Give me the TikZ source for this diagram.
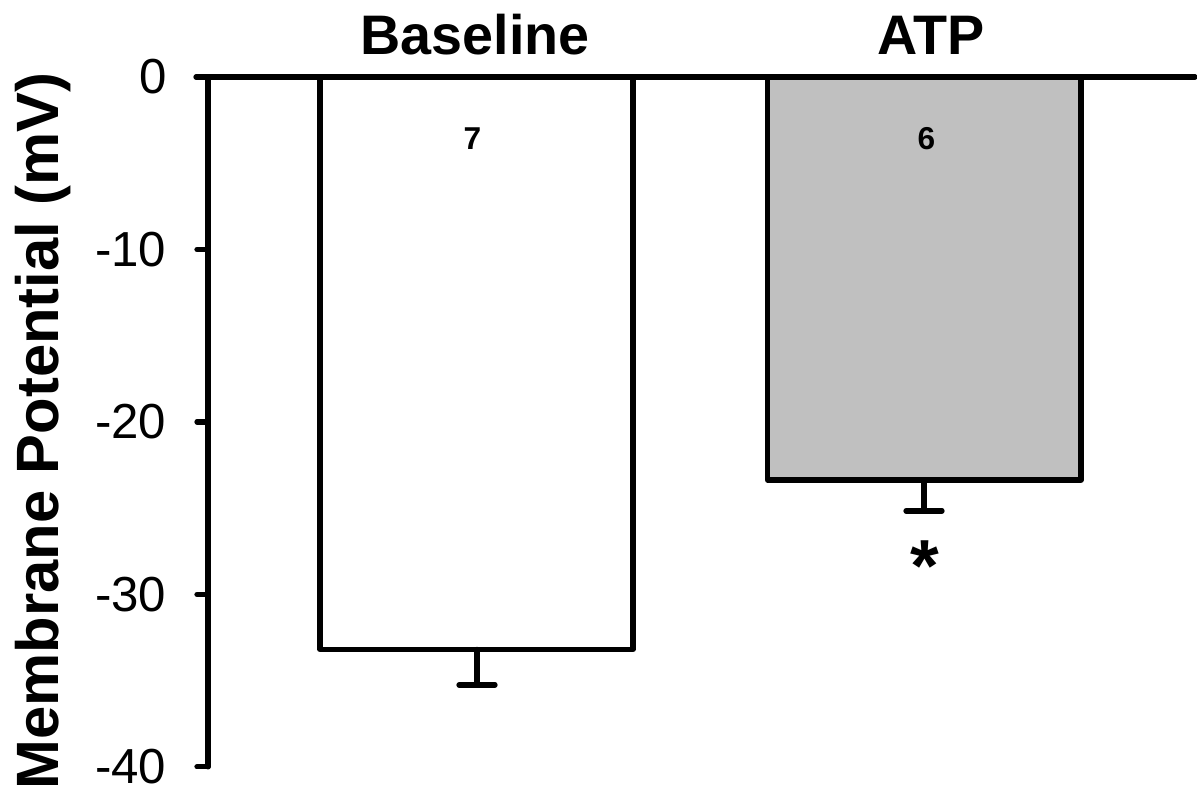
\documentclass[tikz,border=0pt]{standalone}
\usepackage{fontspec}
\setmainfont{Liberation Sans}
\usepackage{xcolor}
\usepackage{tikz}
\usetikzlibrary{positioning}

\definecolor{barGray}{HTML}{C0C0C0}

\begin{document}
\begin{tikzpicture}[x=0.02cm, y=0.345cm, line width=3pt, line cap=round, line join=round,
    bar/.style={draw=black, line width=3pt},
    ticklabel/.style={anchor=east, inner sep=0pt, font=\fontsize{28}{34}\selectfont},
    grouptitle/.style={anchor=base, inner sep=0pt, font=\fontsize{31.7}{38}\selectfont\bfseries},
    count/.style={anchor=north, inner sep=0pt, font=\fontsize{18}{22}\selectfont\bfseries}]
    \useasboundingbox (0,4.4638) rectangle (1197,-41.4493);

    % bars
    \draw[bar, fill=white] (320,0) rectangle (633,-33.19);
    \draw[bar, fill=barGray] (767.5,0) rectangle (1081,-23.36);

    % error bars
    \draw (477,-33.19) -- (477,-35.25);
    \draw (459,-35.25) -- (495,-35.25);
    \draw (924,-23.36) -- (924,-25.16);
    \draw (906,-25.16) -- (942,-25.16);

    % axes
    \draw (196,0) -- (1195,0);
    \draw (208,0) -- (208,-40);
    \foreach \v in {0,-10,-20,-30,-40} {
        \draw (197,\v) -- (208,\v);
        \node[ticklabel] (lbl\v) at (169,\v) {\v};
    }

    \node[grouptitle] (baseTitle) at (475,1.3) {Baseline};
    \node[grouptitle] (atpTitle) at (931,1.3) {ATP};
    \node[count] (baseN) at (472.5,-2.8) {7};
    \node[count] (atpN) at (926.5,-2.8) {6};
    \node[anchor=north, inner sep=0pt, font=\fontsize{42}{50}\selectfont\bfseries] (sig) at (925,-26.72) {*};

    \node[rotate=90, anchor=base, inner sep=0pt, font=\fontsize{34}{40}\selectfont\bfseries] (yLabel) at (58,-20.52) {Membrane Potential (mV)};
\end{tikzpicture}
\end{document}
